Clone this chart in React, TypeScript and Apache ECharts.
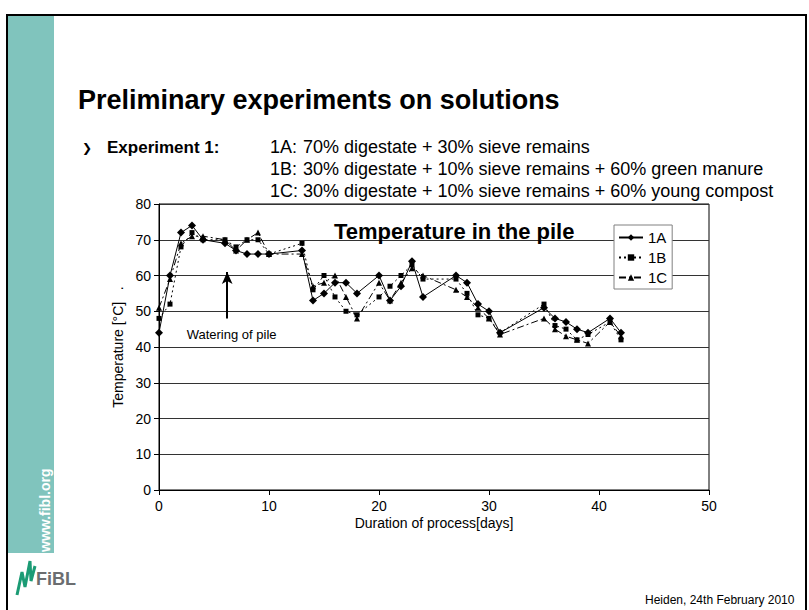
import React, { useEffect, useRef } from "react";
import * as echarts from "echarts";

// ---- data ----
const seriesNames = ["1A", "1B", "1C"];
const days = [0, 1, 2, 3, 4, 6, 7, 8, 9, 10, 13, 14, 15, 16, 17, 18, 20, 21, 22, 23, 24, 27, 28, 29, 30, 31, 35, 36, 37, 38, 39, 41, 42];
const temp1A = [44, 60, 72, 74, 70, 69, 67, 66, 66, 66, 67, 53, 55, 58, 58, 55, 60, 53, 57, 64, 54, 60, 58, 52, 50, 44, 51, 48, 47, 45, 44, 48, 44];
const temp1B = [48, 52, 68, 72, 70, 70, 68, 70, 70, 66, 69, 56, 60, 54, 50, 49, 54, 57, 60, 63, 59, 59, 55, 49, 48, 44, 52, 46, 45, 42, 43.5, 47, 42];
const temp1C = [51, 59, 69, 71, 71, 70, 67, 70, 72, 66, 66, 57, 58, 60, 54, 48, 58, 53, 58, 62, 60, 56, 54, 51, 48, 43.5, 48, 45, 43, 42, 41, 47, 43];
const xTicks = [0, 10, 20, 30, 40, 50];
const yTicks = [0, 10, 20, 30, 40, 50, 60, 70, 80];
const wateringDay = 6.2;
const wateringFrom = 48;
const wateringTo = 61;
const wateringLabelAt = [6.6, 43.5];

const FONT = '"Liberation Sans", Arial, sans-serif';

export default function App() {
  const ref = useRef<HTMLDivElement>(null);
  useEffect(() => {
    if (!ref.current) return;
    const chart = echarts.init(ref.current, null, { renderer: "svg" });
    const zip = (ys: number[]) => days.map((d, i) => [d, ys[i]]);
    const txt = (x: number, y: number, text: string, font: string, fill = "#000") => ({
      type: "text",
      x,
      y,
      silent: true,
      style: { text, textAlign: "left", textVerticalAlign: "middle", fill, font },
    });
    const option: any = {
      animation: false,
      backgroundColor: "#fff",
      textStyle: { fontFamily: FONT },
      title: {
        text: "Temperature in the pile",
        left: 329,
        top: 215,
        textStyle: { fontSize: 22, fontWeight: "bold", color: "#000", fontFamily: FONT },
      },
      legend: {
        data: seriesNames,
        orient: "vertical",
        left: 614,
        top: 225,
        padding: [5, 5, 4, 4],
        itemGap: 5,
        itemWidth: 24,
        itemHeight: 8,
        backgroundColor: "#fff",
        borderColor: "#808080",
        borderWidth: 1,
        textStyle: { fontSize: 15, color: "#000", fontFamily: FONT },
      },
      grid: {
        left: 159,
        right: 100,
        top: 204,
        bottom: 120,
        show: true,
        borderColor: "#000",
        borderWidth: 1,
        backgroundColor: "transparent",
      },
      xAxis: {
        type: "value",
        min: xTicks[0],
        max: xTicks[xTicks.length - 1],
        interval: 10,
        name: "Duration of process[days]",
        nameLocation: "middle",
        nameGap: 26,
        nameTextStyle: { fontSize: 14, color: "#000", fontFamily: FONT },
        axisLine: { show: true, lineStyle: { color: "#000", width: 1 } },
        axisTick: { show: true, length: 5, lineStyle: { color: "#000" } },
        axisLabel: { fontSize: 14, color: "#000", margin: 9, fontFamily: FONT },
        splitLine: { show: false },
      },
      yAxis: {
        type: "value",
        min: yTicks[0],
        max: yTicks[yTicks.length - 1],
        interval: 10,
        name: "Temperature [°C]   .",
        nameLocation: "middle",
        nameGap: 34,
        nameTextStyle: { fontSize: 14, color: "#000", fontFamily: FONT },
        axisLine: { show: true, lineStyle: { color: "#000", width: 1 } },
        axisTick: { show: true, length: 5, lineStyle: { color: "#000" } },
        axisLabel: { fontSize: 14, color: "#000", margin: 8, fontFamily: FONT },
        splitLine: { show: true, lineStyle: { color: "#333", width: 1 } },
      },
      series: [
        {
          name: "1C",
          type: "line",
          data: zip(temp1C),
          symbol: "triangle",
          symbolSize: 6,
          itemStyle: { color: "#000" },
          lineStyle: { color: "#000", width: 1, type: [7, 3, 2, 3] },
          z: 3,
        },
        {
          name: "1B",
          type: "line",
          data: zip(temp1B),
          symbol: "rect",
          symbolSize: 5,
          itemStyle: { color: "#000" },
          lineStyle: { color: "#000", width: 1, type: [2, 3] },
          z: 4,
        },
        {
          name: "1A",
          type: "line",
          data: zip(temp1A),
          symbol: "diamond",
          symbolSize: 8,
          itemStyle: { color: "#000" },
          lineStyle: { color: "#000", width: 1, type: "solid" },
          z: 5,
          markLine: {
            silent: true,
            symbol: ["none", "arrow"],
            symbolSize: [8, 12],
            label: { show: false },
            lineStyle: { color: "#000", width: 2, type: "solid" },
            data: [[{ coord: [wateringDay, wateringFrom] }, { coord: [wateringDay, wateringTo] }]],
          },
          markPoint: {
            silent: true,
            symbol: "circle",
            symbolSize: 1,
            itemStyle: { color: "rgba(0,0,0,0)" },
            label: {
              show: true,
              position: "inside",
              formatter: "Watering of pile",
              color: "#000",
              fontSize: 13,
              fontFamily: FONT,
            },
            data: [{ coord: wateringLabelAt }],
          },
        },
      ],
      graphic: [
        { type: "rect", shape: { x: 7, y: 15, width: 799, height: 620 }, style: { fill: "none", stroke: "#000", lineWidth: 2 }, silent: true },
        { type: "rect", shape: { x: 8, y: 16, width: 46, height: 537 }, style: { fill: "#80c4bd" }, silent: true },
        {
          type: "text",
          x: 52,
          y: 552,
          rotation: Math.PI / 2,
          silent: true,
          style: { text: "www.fibl.org", x: 0, y: 0, textAlign: "left", textVerticalAlign: "bottom", fill: "#fff", font: `bold 14px ${FONT}` },
        },
        { type: "polyline", shape: { points: [[17, 595], [22, 572], [25, 587], [30, 561], [31, 581], [35, 566]] }, style: { fill: "none", stroke: "#1b9b74", lineWidth: 3 }, silent: true },
        txt(36, 579, "FiBL", `bold 18px ${FONT}`, "#6b6d70"),
        txt(78, 100, "Preliminary experiments on solutions", `bold 27px ${FONT}`),
        txt(82, 148, "\u276F", `bold 12px "DejaVu Sans", sans-serif`),
        txt(107, 147, "Experiment 1:", `bold 17px ${FONT}`),
        txt(270, 147, "1A:", `18px ${FONT}`),
        txt(303, 147, "70% digestate + 30% sieve remains", `18px ${FONT}`),
        txt(270, 169, "1B:", `18px ${FONT}`),
        txt(303, 169, "30% digestate + 10% sieve remains + 60% green manure", `18px ${FONT}`),
        txt(270, 191, "1C:", `18px ${FONT}`),
        txt(303, 191, "30% digestate + 10% sieve remains + 60% young compost", `18px ${FONT}`),
        txt(645, 600, "Heiden, 24th February 2010", `12px ${FONT}`),
      ],
    };
    chart.setOption(option);
    return () => chart.dispose();
  }, []);
  return (
    <div
      ref={ref}
      style={{ position: "absolute", left: 0, top: 0, width: 809, height: 610, background: "#fff" }}
    />
  );
}
